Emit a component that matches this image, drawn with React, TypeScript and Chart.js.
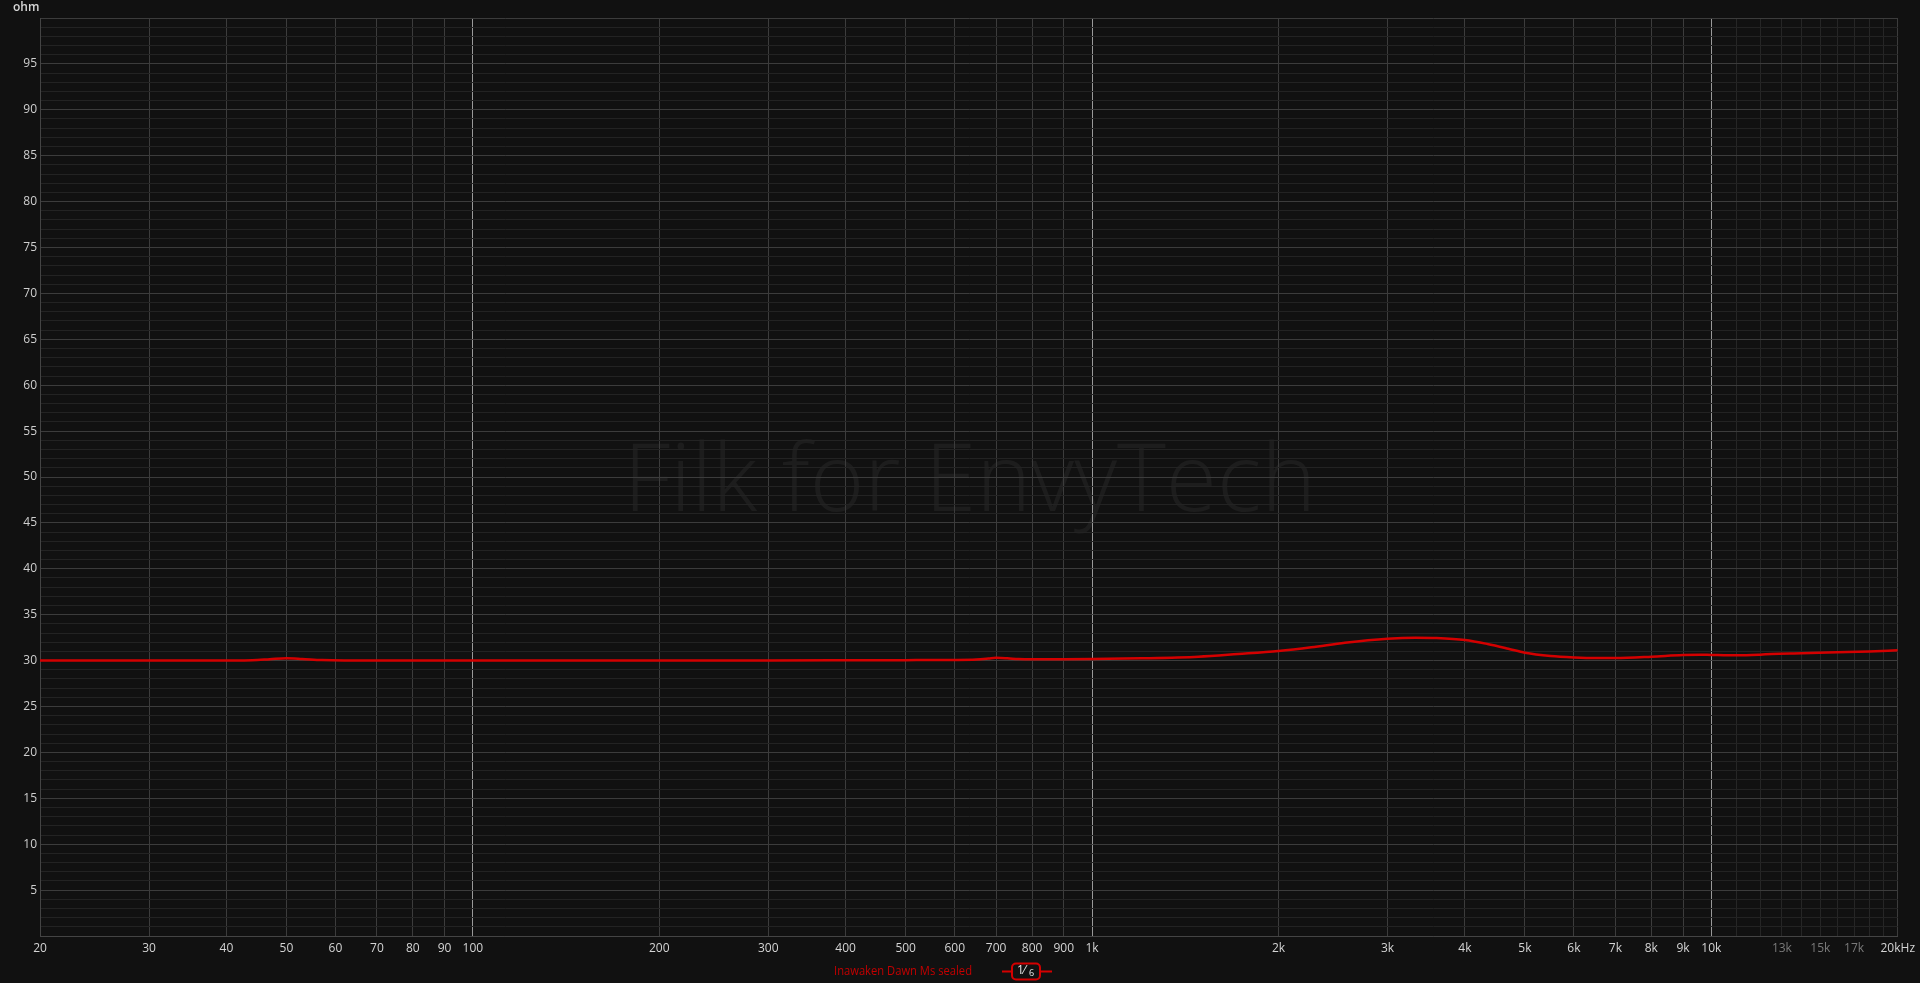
import React, { useEffect, useRef } from 'react';
import { Chart, registerables } from 'chart.js';

Chart.register(...registerables);

const FONT = "'Open Sans', 'Noto Sans', sans-serif";

const freqHz = [
  20, 25, 30, 35, 40, 44, 47, 50, 53, 57, 62, 70, 80, 100, 150, 200, 300, 400, 500, 600,
  650, 680, 700, 730, 760, 800, 900, 1000, 1200, 1485, 1720, 2000, 2260, 2560, 3000, 3330,
  3600, 4000, 4350, 4700, 5000, 5500, 6000, 6500, 7000, 8000, 9000, 9600, 10000, 11000,
  12000, 12500, 14000, 16000, 18000, 20000,
];
const impedanceOhm = [
  30.02, 30.0, 30.0, 30.0, 30.02, 30.05, 30.15, 30.25, 30.18, 30.06, 30.02, 30.02, 30.02, 30.0,
  30.0, 30.02, 30.02, 30.03, 30.05, 30.07, 30.12, 30.22, 30.3, 30.25, 30.17, 30.14, 30.15,
  30.17, 30.25, 30.43, 30.72, 31.05, 31.45, 31.95, 32.39, 32.5, 32.46, 32.24, 31.81, 31.3,
  30.86, 30.5, 30.34, 30.27, 30.28, 30.43, 30.61, 30.65, 30.62, 30.57, 30.65, 30.72, 30.79,
  30.9, 31.0, 31.12,
];

const xTickValues = [
  20, 30, 40, 50, 60, 70, 80, 90, 100, 200, 300, 400, 500, 600, 700, 800, 900, 1000, 2000,
  3000, 4000, 5000, 6000, 7000, 8000, 9000, 10000, 11000, 12000, 13000, 14000, 15000, 16000,
  17000, 18000, 19000, 20000,
];
const xTickLabels = [
  '20', '30', '40', '50', '60', '70', '80', '90', '100', '200', '300', '400', '500', '600',
  '700', '800', '900', '1k', '2k', '3k', '4k', '5k', '6k', '7k', '8k', '9k', '10k', '', '',
  '13k', '', '15k', '', '17k', '', '', '20kHz',
];
const dimXLabels = ['13k', '15k', '17k'];
const brightXLines = [100, 1000, 10000];

const yTickValues = [
  0, 1, 2, 3, 4, 5, 6, 7, 8, 9, 10, 11, 12, 13, 14, 15, 16, 17, 18, 19, 20, 21, 22, 23, 24, 25,
  26, 27, 28, 29, 30, 31, 32, 33, 34, 35, 36, 37, 38, 39, 40, 41, 42, 43, 44, 45, 46, 47, 48,
  49, 50, 51, 52, 53, 54, 55, 56, 57, 58, 59, 60, 61, 62, 63, 64, 65, 66, 67, 68, 69, 70, 71,
  72, 73, 74, 75, 76, 77, 78, 79, 80, 81, 82, 83, 84, 85, 86, 87, 88, 89, 90, 91, 92, 93, 94,
  95, 96, 97, 98, 99, 100,
];
const yLabeledValues = [5, 10, 15, 20, 25, 30, 35, 40, 45, 50, 55, 60, 65, 70, 75, 80, 85, 90, 95];

const seriesName = 'Inawaken Dawn Ms sealed';
const yUnit = 'ohm';
const watermark = 'Filk for EnvyTech';

const decorPlugin = {
  id: 'decor',
  beforeDraw(chart: any) {
    const { ctx, width, height, chartArea } = chart;
    ctx.save();
    ctx.fillStyle = '#111111';
    ctx.fillRect(0, 0, width, height);
    // watermark
    ctx.font = `300 94px ${FONT}`;
    ctx.fillStyle = 'rgba(255,255,255,0.05)';
    ctx.textAlign = 'center';
    ctx.textBaseline = 'alphabetic';
    const w = ctx.measureText(watermark).width;
    const cx = (chartArea.left + chartArea.right) / 2 + 1;
    ctx.translate(cx, 511);
    ctx.scale(693 / w, 1);
    ctx.fillText(watermark, 0, 0);
    ctx.restore();
  },
  afterDraw(chart: any) {
    const { ctx } = chart;
    ctx.save();
    // unit label
    ctx.font = `600 12px ${FONT}`;
    ctx.fillStyle = '#d8d8d8';
    ctx.textAlign = 'left';
    ctx.textBaseline = 'middle';
    ctx.fillText(yUnit, 13, 8);

    // legend
    const ly = 971.5;
    ctx.font = `12px ${FONT}`;
    ctx.fillStyle = '#c40000';
    ctx.textAlign = 'right';
    const tw = ctx.measureText(seriesName).width;
    ctx.save();
    ctx.translate(972, ly);
    ctx.scale(138 / tw, 1);
    ctx.fillText(seriesName, 0, 0);
    ctx.restore();

    ctx.strokeStyle = '#d40000';
    ctx.lineWidth = 2;
    ctx.beginPath();
    ctx.moveTo(1002, ly);
    ctx.lineTo(1012, ly);
    ctx.moveTo(1040, ly);
    ctx.lineTo(1052, ly);
    ctx.stroke();
    ctx.beginPath();
    (ctx as any).roundRect(1012, 963.5, 28, 16, 4);
    ctx.stroke();

    ctx.fillStyle = '#e8e8e8';
    ctx.textAlign = 'left';
    ctx.font = `12px ${FONT}`;
    ctx.fillText('1\u2044', 1017, ly - 1);
    ctx.font = `9px ${FONT}`;
    ctx.fillText('6', 1029, ly + 2);
    ctx.restore();
  },
};

export default function App() {
  const canvasRef = useRef<HTMLCanvasElement | null>(null);

  useEffect(() => {
    document.body.style.margin = '0';
    document.body.style.background = '#111111';
    const canvas = canvasRef.current;
    if (!canvas) return;
    const points = freqHz.map((f, i) => ({ x: f, y: impedanceOhm[i] }));
    const chart = new Chart(canvas, {
      type: 'line',
      data: {
        datasets: [
          {
            label: seriesName,
            data: points,
            borderColor: '#d40000',
            borderWidth: 2.5,
            pointRadius: 0,
            cubicInterpolationMode: 'monotone',
            fill: false,
          },
        ],
      },
      options: {
        animation: false,
        responsive: false,
        maintainAspectRatio: false,
        devicePixelRatio: 1,
        layout: { padding: { top: 18, right: 20, left: 0, bottom: 0 } },
        plugins: {
          legend: { display: false },
          tooltip: { enabled: false },
        },
        scales: {
          x: {
            type: 'logarithmic',
            min: 20,
            max: 20000,
            afterBuildTicks: (s: any) => {
              s.ticks = xTickValues.map((v) => ({ value: v }));
            },
            afterFit: (s: any) => {
              s.height = 47;
            },
            grid: {
              drawTicks: false,
              lineWidth: 1,
              color: (c: any) => {
                const v = c.tick ? c.tick.value : 0;
                if (brightXLines.includes(v)) return '#999999';
                if (v > 10000 && v < 20000) return '#262626';
                return '#3c3c3c';
              },
            },
            border: { color: '#444444', width: 1 },
            ticks: {
              autoSkip: false,
              maxRotation: 0,
              minRotation: 0,
              padding: 5,
              font: { family: FONT, size: 12 },
              color: (c: any) => {
                const lbl = c.tick ? c.tick.label : '';
                return dimXLabels.includes(lbl) ? '#7a7a7a' : '#d4d4d4';
              },
              callback: (_v: any, i: number) => xTickLabels[i],
            },
          },
          y: {
            type: 'linear',
            min: 0,
            max: 100,
            afterBuildTicks: (s: any) => {
              s.ticks = yTickValues.map((v) => ({ value: v }));
            },
            afterFit: (s: any) => {
              s.width = 40;
            },
            grid: {
              drawTicks: false,
              lineWidth: 1,
              color: (c: any) => {
                const v = c.tick ? c.tick.value : 0;
                return v % 5 === 0 ? '#3c3c3c' : '#232323';
              },
            },
            border: { color: '#444444', width: 1 },
            ticks: {
              autoSkip: false,
              padding: 3,
              font: { family: FONT, size: 12 },
              color: '#cfcfcf',
              callback: (v: any) => (yLabeledValues.includes(v) ? String(v) : ''),
            },
          },
        },
      },
      plugins: [decorPlugin],
    } as any);
    return () => chart.destroy();
  }, []);

  return (
    <div style={{ width: 1920, height: 983, background: '#111111' }}>
      <canvas ref={canvasRef} width={1920} height={983} style={{ display: 'block' }} />
    </div>
  );
}
